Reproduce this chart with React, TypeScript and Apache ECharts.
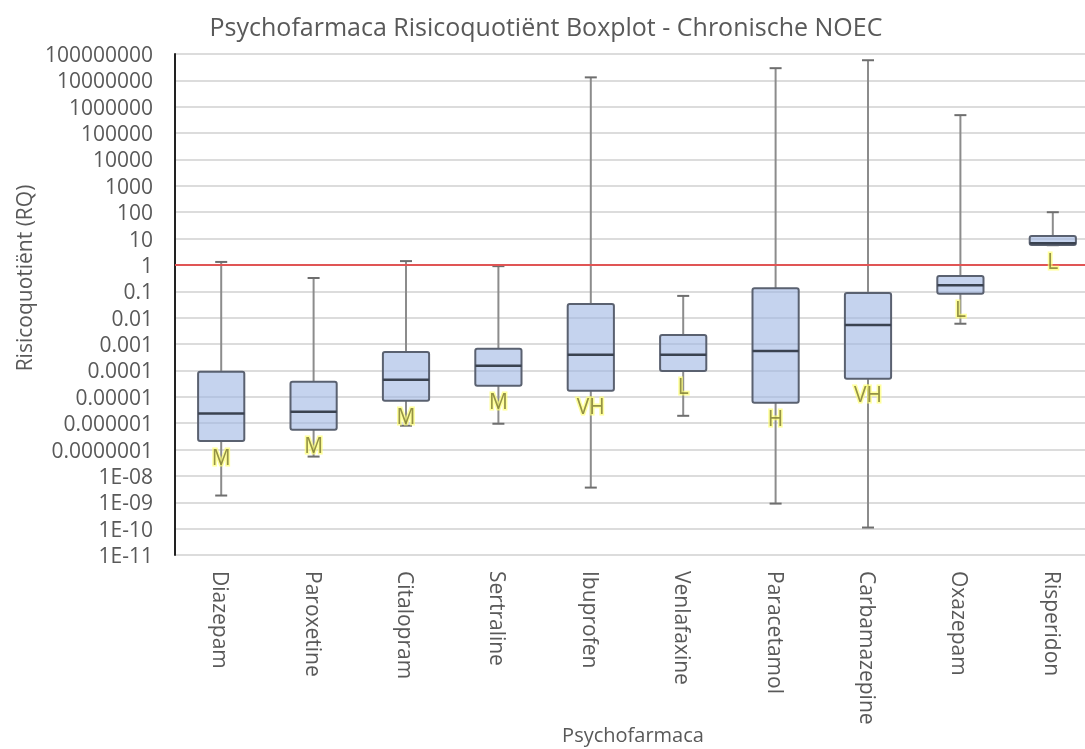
import React, { useEffect, useRef } from "react";
import * as echarts from "echarts";

const categories = ["Diazepam", "Paroxetine", "Citalopram", "Sertraline", "Ibuprofen", "Venlafaxine", "Paracetamol", "Carbamazepine", "Oxazepam", "Risperidon"];
const minValues = [1.8e-9, 5.4e-8, 8e-7, 9.5e-7, 3.6e-9, 1.9e-6, 8.9e-10, 1.1e-10, 5.9e-3, 5.6];
const q1Values = [2.1e-7, 5.6e-7, 7e-6, 2.6e-5, 1.7e-5, 9.6e-5, 5.9e-6, 4.8e-5, 0.08, 5.7];
const medianValues = [2.3e-6, 2.7e-6, 4.4e-5, 1.5e-4, 3.9e-4, 3.9e-4, 5.5e-4, 5.3e-3, 0.17, 6.6];
const q3Values = [8.9e-5, 3.7e-5, 5e-4, 6.6e-4, 0.033, 2.2e-3, 0.13, 0.087, 0.38, 12.6];
const maxValues = [1.3, 0.32, 1.4, 0.9, 1.3e7, 0.067, 2.9e7, 5.8e7, 4.8e5, 100];
const riskLabels = ["M", "M", "M", "M", "VH", "L", "H", "VH", "L", "L"];
const thresholdRQ = 1;

const fmtTick = (v: number) => {
  const e = Math.round(Math.log10(v));
  if (e >= 0) return "1" + "0".repeat(e);
  if (e >= -7) return "0." + "0".repeat(-e - 1) + "1";
  const n = -e;
  return "1E-" + (n < 10 ? "0" + n : String(n));
};

export default function App() {
  const ref = useRef<HTMLDivElement>(null);
  useEffect(() => {
    if (!ref.current) return;
    const chart = echarts.init(ref.current, null, { renderer: "svg" });
    const boxData = categories.map((_, i) => [i, minValues[i], q1Values[i], medianValues[i], q3Values[i], maxValues[i]]);
    const labelData = categories.map((_, i) => ({ value: [i, q1Values[i]], label: { formatter: riskLabels[i] } }));
    const font = "'Open Sans', sans-serif";
    chart.setOption({
      animation: false,
      textStyle: { fontFamily: font },
      grid: { left: 175, right: 1, top: 54, bottom: 194 },
      graphic: [
        { type: "text", x: 546, y: 26, style: { text: "Psychofarmaca Risicoquotiënt Boxplot - Chronische NOEC", fontFamily: font, fontSize: 25, fill: "#595959", align: "center", verticalAlign: "middle" } },
        { type: "text", x: 24, y: 278, rotation: Math.PI / 2, style: { text: "Risicoquotiënt (RQ)", fontFamily: font, fontSize: 21, fill: "#595959", align: "center", verticalAlign: "middle" } },
        { type: "text", x: 633, y: 734, style: { text: "Psychofarmaca", fontFamily: font, fontSize: 20, fill: "#595959", align: "center", verticalAlign: "middle" } },
      ],
      xAxis: {
        type: "category",
        data: categories,
        boundaryGap: true,
        axisLine: { show: false },
        axisTick: { show: false },
        axisLabel: { rotate: -90, fontSize: 21, color: "#595959", margin: 16, interval: 0, fontFamily: font },
        splitLine: { show: false },
      },
      yAxis: {
        type: "log",
        logBase: 10,
        min: 1e-11,
        max: 1e8,
        interval: 1,
        axisLine: { show: true, lineStyle: { color: "#222", width: 2 } },
        axisTick: { show: false },
        axisLabel: { formatter: fmtTick, fontSize: 21, color: "#595959", margin: 22, fontFamily: font },
        splitLine: { show: true, lineStyle: { color: "#dcdcdc", width: 2 } },
      },
      series: [
        {
          type: "custom",
          data: boxData,
          z: 3,
          renderItem: (params: any, api: any) => {
            const x = api.value(0);
            const pMin = api.coord([x, api.value(1)]);
            const pQ1 = api.coord([x, api.value(2)]);
            const pMed = api.coord([x, api.value(3)]);
            const pQ3 = api.coord([x, api.value(4)]);
            const pMax = api.coord([x, api.value(5)]);
            const w = api.size([1, 0])[0] * 0.5;
            const cx = pMin[0];
            const cap = 6;
            const whisker = { stroke: "#8c8c8c", lineWidth: 2 };
            return {
              type: "group",
              children: [
                { type: "line", shape: { x1: cx, y1: pMax[1], x2: cx, y2: pQ3[1] }, style: whisker },
                { type: "line", shape: { x1: cx, y1: pQ1[1], x2: cx, y2: pMin[1] }, style: whisker },
                { type: "line", shape: { x1: cx - cap, y1: pMax[1], x2: cx + cap, y2: pMax[1] }, style: { stroke: "#6e6e6e", lineWidth: 2 } },
                { type: "line", shape: { x1: cx - cap, y1: pMin[1], x2: cx + cap, y2: pMin[1] }, style: { stroke: "#6e6e6e", lineWidth: 2 } },
                { type: "rect", shape: { x: cx - w / 2, y: pQ3[1], width: w, height: pQ1[1] - pQ3[1], r: 2 }, style: { fill: "rgba(158,182,227,0.6)", stroke: "#5a6170", lineWidth: 2 } },
                { type: "line", shape: { x1: cx - w / 2, y1: pMed[1], x2: cx + w / 2, y2: pMed[1] }, style: { stroke: "#3a4250", lineWidth: 2.5 } },
              ],
            };
          },
          markLine: {
            silent: true,
            symbol: "none",
            label: { show: false },
            lineStyle: { color: "#e05555", width: 2, type: "solid" },
            data: [{ yAxis: thresholdRQ }],
          },
        },
        {
          type: "scatter",
          data: labelData,
          symbolSize: 0,
          z: 5,
          label: {
            show: true,
            position: "bottom",
            distance: 5,
            fontSize: 21,
            fontFamily: font,
            color: "#7a7830",
            textBorderColor: "rgba(255,255,110,0.85)",
            textBorderWidth: 3,
          },
        },
      ],
    });
    return () => chart.dispose();
  }, []);
  return <div ref={ref} style={{ position: "fixed", left: 0, top: 0, width: 1100, height: 749 }} />;
}
